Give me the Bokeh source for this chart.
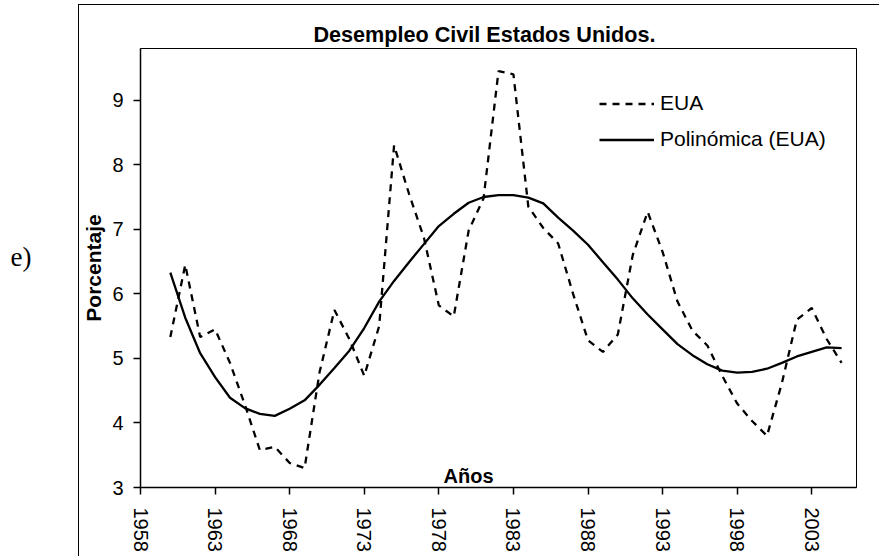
import math
from bokeh.plotting import figure
from bokeh.models import Range1d, FixedTicker, Label, Legend, LegendItem, LinearAxis
from bokeh.embed import file_html
from bokeh.resources import INLINE

# ---- data ----
years = list(range(1960, 2006))
eua = [5.33, 6.45, 5.33, 5.45, 4.93, 4.28, 3.58, 3.63, 3.38, 3.30,
       4.78, 5.75, 5.30, 4.73, 5.50, 8.30, 7.55, 6.87, 5.82, 5.65,
       6.98, 7.48, 9.45, 9.40, 7.35, 7.02, 6.78, 6.00, 5.28, 5.10,
       5.37, 6.60, 7.27, 6.65, 5.88, 5.43, 5.20, 4.73, 4.30, 4.03,
       3.80, 4.62, 5.60, 5.78, 5.30, 4.93]
polinomica = [6.33, 5.63, 5.08, 4.71, 4.39, 4.23, 4.14, 4.11, 4.22, 4.35,
              4.59, 4.85, 5.12, 5.47, 5.88, 6.20, 6.49, 6.77, 7.05, 7.24,
              7.41, 7.50, 7.53, 7.53, 7.49, 7.40, 7.18, 6.98, 6.76, 6.49,
              6.22, 5.93, 5.68, 5.45, 5.22, 5.05, 4.91, 4.81, 4.78, 4.79,
              4.84, 4.93, 5.03, 5.10, 5.17, 5.16]
x_ticks = [1958, 1963, 1968, 1973, 1978, 1983, 1988, 1993, 1998, 2003]
y_ticks = [3, 4, 5, 6, 7, 8, 9]

title_text = "Desempleo Civil Estados Unidos."
x_label = "Años"
y_label = "Porcentaje"
panel_tag = "e)"
series_names = ["EUA", "Polinómica (EUA)"]

FONT = "Liberation Sans"

p = figure(width=879, height=556,
           x_range=Range1d(1958, 2006), y_range=Range1d(3, 9.8),
           output_backend="svg", toolbar_location=None,
           min_border_left=140, min_border_right=23,
           min_border_top=48, min_border_bottom=69)
p.background_fill_color = "white"
p.border_fill_color = None
# outer chart-area border (top and left edges of the chart box)
p.styles = {
    "background-color": "white",
    "background-image": "linear-gradient(#000,#000), linear-gradient(#000,#000)",
    "background-size": "1px 100%, 100% 1px",
    "background-position": "78px 4px, 78px 4px",
    "background-repeat": "no-repeat",
}
p.outline_line_color = "black"
p.outline_line_width = 1
p.xgrid.visible = False
p.ygrid.visible = False

for ax in (p.xaxis[0], p.yaxis[0]):
    ax.axis_line_color = "black"
    ax.axis_line_width = 1.5
    ax.major_tick_line_color = "black"
    ax.major_tick_line_width = 1.5
    ax.major_tick_out = 7
    ax.major_tick_in = 0
    ax.minor_tick_line_color = None
    ax.major_label_text_font = FONT
    ax.major_label_text_font_size = "20px"
    ax.major_label_text_color = "black"

p.xaxis.ticker = FixedTicker(ticks=x_ticks)
p.yaxis.ticker = FixedTicker(ticks=y_ticks)
p.xaxis.major_label_orientation = -math.pi / 2
p.xaxis.major_label_standoff = 13
p.yaxis.major_label_standoff = 10

p.yaxis.axis_label = y_label
p.yaxis.axis_label_text_font = FONT
p.yaxis.axis_label_text_font_size = "21px"
p.yaxis.axis_label_text_font_style = "bold"
p.yaxis.axis_label_text_color = "black"
p.yaxis.axis_label_standoff = 4

# panel tag "e)" as the label of an empty extra left axis
# (a trailing empty line lifts it slightly above the frame's middle)
tag_axis = LinearAxis(ticker=FixedTicker(ticks=[]), axis_line_color=None,
                      major_tick_line_color=None, minor_tick_line_color=None,
                      axis_label=panel_tag + "\n",
                      axis_label_text_font="Liberation Serif",
                      axis_label_text_font_size="27px",
                      axis_label_text_font_style="normal",
                      axis_label_text_color="black",
                      axis_label_text_line_height=0.72,
                      axis_label_standoff=48)
try:
    tag_axis.axis_label_orientation = "horizontal"
except Exception:
    pass
p.add_layout(tag_axis, "left")

r1 = p.line(years, eua, line_color="black", line_width=2.3, line_dash="7 6")
r2 = p.line(years, polinomica, line_color="black", line_width=2.3)

legend = Legend(items=[LegendItem(label=series_names[0], renderers=[r1]),
                       LegendItem(label=series_names[1], renderers=[r2])],
                location=(451, 328))
legend.label_text_font = FONT
legend.label_text_font_size = "21px"
legend.label_text_color = "black"
legend.glyph_width = 55
legend.glyph_height = 21
legend.label_height = 21
legend.label_width = 190
legend.spacing = 12
legend.padding = 8
legend.margin = 0
legend.label_standoff = 6
legend.border_line_alpha = 0
legend.background_fill_color = "white"
legend.background_fill_alpha = 1
p.add_layout(legend)

# title
p.title.text = title_text
p.title.align = "left"
p.title.offset = 173
p.title.standoff = 4
p.title.text_font = FONT
p.title.text_font_size = "21.6px"
p.title.text_font_style = "bold"
p.title.text_color = "black"

p.add_layout(Label(x=1979.99, y=3.18, text=x_label, text_align="center",
                   text_baseline="alphabetic", text_font=FONT,
                   text_font_size="20px", text_font_style="bold",
                   text_color="black"))

open("out.html", "w").write(file_html(p, INLINE))
